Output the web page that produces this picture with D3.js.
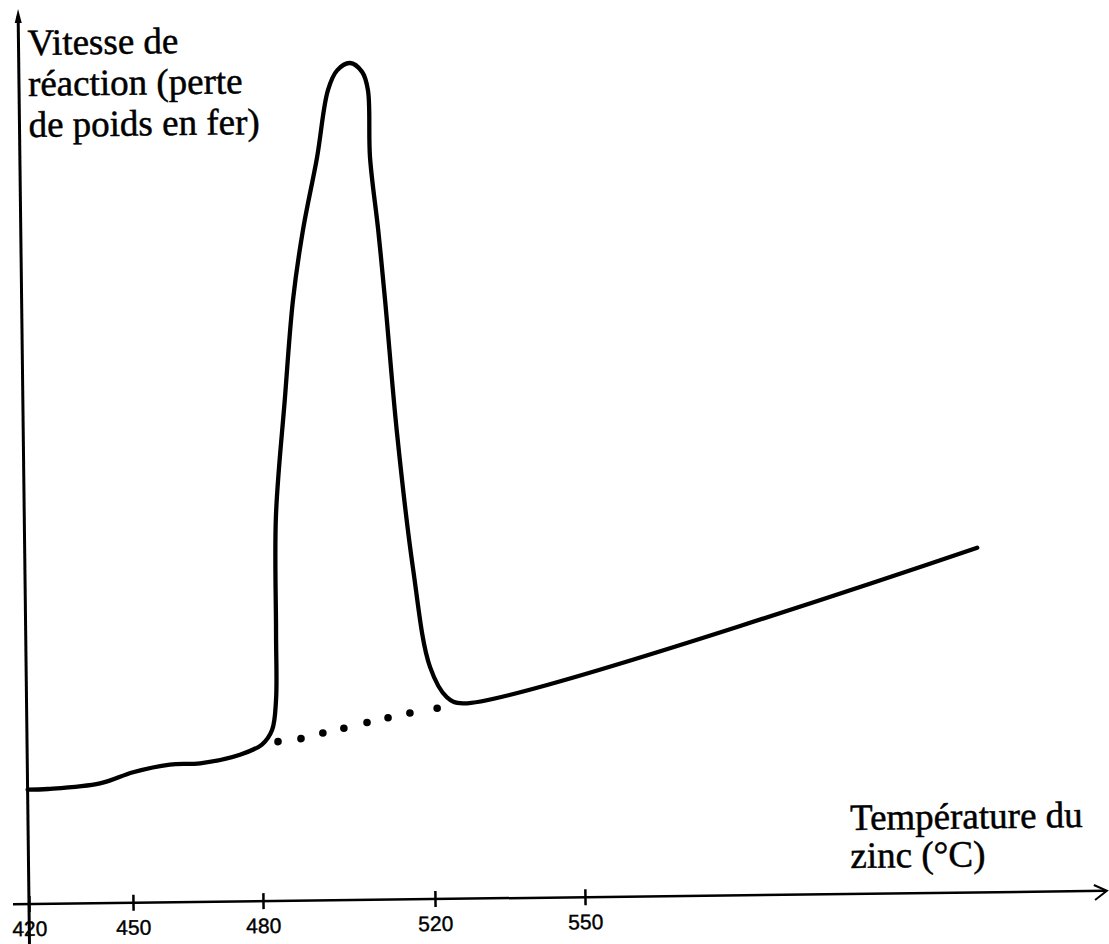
<!DOCTYPE html>
<html>
<head>
<meta charset="utf-8">
<script src="https://cdn.jsdelivr.net/npm/d3@7"></script>
<style>
  body { margin: 0; background: #fff; }
  svg { display: block; }
</style>
</head>
<body>
<div id="chart"></div>
<script>
// Température du zinc (°C) / vitesse de réaction (unités arbitraires, 0 = axe)
const temperature = [420, 425.9, 440.9, 450.4, 458.9, 465.9, 475.1, 480.2, 482.6, 483.6,
  483.8, 484.1, 486.5, 488.7, 491.2, 494.7, 497.4, 499.6, 502.6, 505.4,
  506.7, 507.0, 508.7, 510.1, 512.5, 515.8, 519.5, 522.9, 526.1, 629.3];
const vitesse = [12.7, 12.75, 13.3, 14.5, 15.3, 15.4, 16.3, 17.4, 19.0, 22.3,
  29.8, 42.7, 55.7, 66.8, 74.5, 82.6, 90.0, 92.2, 93.0, 92.0,
  90.0, 82.5, 74.4, 66.6, 51.8, 36.9, 25.8, 22.4, 21.7, 38.3];

// prolongement en pointillés sous le pic
const pointillesT = [483.95, 489.3, 494.4, 499.3, 504.7, 509.6, 514.7, 520.9];
const pointillesV = [17.7, 18.0, 18.6, 19.1, 19.7, 20.2, 20.7, 21.2];

const xTicks = [420, 450, 480, 520, 550];
const titreY = ["Vitesse de", "réaction (perte", "de poids en fer)"];
const titreX = ["Température du", "zinc (°C)"];

const width = 1109, height = 944;
const svg = d3.select("#chart").append("svg")
  .attr("width", width).attr("height", height);
svg.append("rect").attr("width", width).attr("height", height).attr("fill", "#fff");

// le graphique scanné est légèrement penché
const g = svg.append("g").attr("transform", "translate(29,904) rotate(-0.7)");

// échelle des x non régulière (graduations tracées à la main)
const x = d3.scaleLinear().domain(xTicks).range([0, 104, 234, 406, 556]);
const y = d3.scaleLinear().domain([0, 100]).range([0, -900]);

// axes
g.append("line").attr("x1", 0).attr("x2", 0).attr("y1", 45).attr("y2", -888)
  .attr("stroke", "#000").attr("stroke-width", 3);
g.append("path").attr("d", "M0,-895 L-3.5,-881 L3.5,-881 Z").attr("fill", "#000");

g.append("line").attr("x1", -16).attr("x2", 1076).attr("y1", 0).attr("y2", 0)
  .attr("stroke", "#000").attr("stroke-width", 2.5);
g.append("path").attr("d", "M1065,-6 L1078,0 L1066,9")
  .attr("fill", "none").attr("stroke", "#000").attr("stroke-width", 2);

const axis = g.append("g").call(d3.axisBottom(x).tickValues(xTicks).tickFormat(d3.format("d")));
axis.select(".domain").remove();
axis.selectAll(".tick line").attr("y1", -8).attr("y2", 8)
  .attr("stroke", "#000").attr("stroke-width", 2.5);
axis.selectAll(".tick text").attr("y", 32).attr("dy", null)
  .attr("fill", "#000").attr("stroke", "#000").attr("stroke-width", 0.4)
  .style("font-family", "'Liberation Sans', Arial, sans-serif").style("font-size", "21px");

// courbe
const pts = temperature.map((t, i) => [t, vitesse[i]]);
const line = d3.line().x(d => x(d[0])).y(d => y(d[1])).curve(d3.curveCatmullRom.alpha(0.5));
g.append("path").datum(pts).attr("d", line)
  .attr("fill", "none").attr("stroke", "#000").attr("stroke-width", 4.3)
  .attr("stroke-linejoin", "round").attr("stroke-linecap", "round");

g.selectAll(".pointille").data(pointillesT).enter().append("circle")
  .attr("class", "pointille")
  .attr("cx", d => x(d)).attr("cy", (d, i) => y(pointillesV[i]))
  .attr("r", 3.8).attr("fill", "#000");

// titres
const serif = "'Liberation Serif', 'Times New Roman', serif";
g.append("text").attr("x", 9).attr("y", -849)
  .style("font-family", serif).style("font-size", "37px")
  .attr("fill", "#000").attr("stroke", "#000").attr("stroke-width", 0.5)
  .selectAll("tspan").data(titreY).enter().append("tspan")
  .attr("x", 9).attr("dy", (d, i) => i ? 41 : 0).text(d => d);

g.append("text").attr("x", 822).attr("y", -64)
  .style("font-family", serif).style("font-size", "37px")
  .attr("fill", "#000").attr("stroke", "#000").attr("stroke-width", 0.5)
  .selectAll("tspan").data(titreX).enter().append("tspan")
  .attr("x", 822).attr("dy", (d, i) => i ? 38 : 0).text(d => d);
</script>
</body>
</html>
